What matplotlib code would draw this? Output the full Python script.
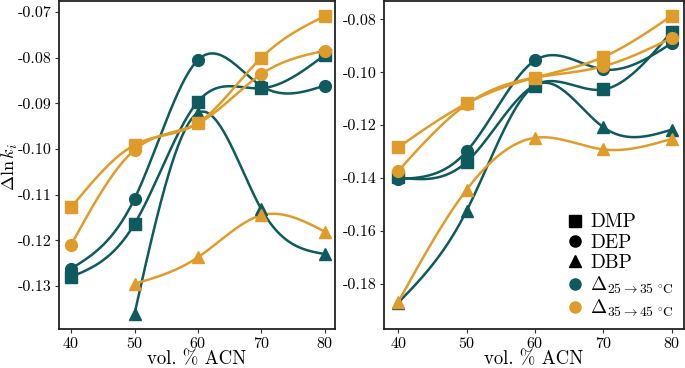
import numpy as np
import matplotlib
matplotlib.use('Agg')
import matplotlib.pyplot as plt
from matplotlib.lines import Line2D

plt.rcParams['font.family'] = 'serif'
plt.rcParams['font.serif'] = ['cmr10', 'DejaVu Serif']
plt.rcParams['mathtext.fontset'] = 'cm'
plt.rcParams['axes.unicode_minus'] = False
plt.rcParams['axes.formatter.use_mathtext'] = True

teal = '#0e5a5e'
orange = '#e09c2a'

acn = [40, 50, 60, 70, 80]
acn_dbp_left = [50, 60, 70, 80]

# left panel
l_dmp_a = [-0.1280, -0.1164, -0.0896, -0.0867, -0.0794]
l_dep_a = [-0.1262, -0.1109, -0.0805, -0.0862, -0.0861]
l_dbp_a = [-0.1361, -0.0921, -0.1132, -0.1230]
l_dmp_b = [-0.1128, -0.0991, -0.0943, -0.0800, -0.0709]
l_dep_b = [-0.1210, -0.1002, -0.0944, -0.0836, -0.0785]
l_dbp_b = [-0.1295, -0.1237, -0.1145, -0.1181]

# right panel
r_dmp_a = [-0.1398, -0.1339, -0.1048, -0.1065, -0.0846]
r_dep_a = [-0.1404, -0.1299, -0.0955, -0.0989, -0.0890]
r_dbp_a = [-0.1872, -0.1524, -0.1050, -0.1208, -0.1217]
r_dmp_b = [-0.1284, -0.1118, -0.1020, -0.0942, -0.0786]
r_dep_b = [-0.1373, -0.1121, -0.1020, -0.0977, -0.0870]
r_dbp_b = [-0.1869, -0.1444, -0.1248, -0.1292, -0.1252]


def spline(x, y, n=200):
    # natural cubic spline just for the smooth line
    x = np.asarray(x, float)
    y = np.asarray(y, float)
    k = len(x)
    h = np.diff(x)
    A = np.zeros((k, k))
    b = np.zeros(k)
    A[0, 0] = 1
    A[-1, -1] = 1
    for i in range(1, k - 1):
        A[i, i - 1] = h[i - 1]
        A[i, i] = 2 * (h[i - 1] + h[i])
        A[i, i + 1] = h[i]
        b[i] = 3 * ((y[i + 1] - y[i]) / h[i] - (y[i] - y[i - 1]) / h[i - 1])
    c = np.linalg.solve(A, b)
    xs = np.linspace(x[0], x[-1], n)
    ys = np.zeros(n)
    for j, xv in enumerate(xs):
        i = min(np.searchsorted(x, xv, side='right') - 1, k - 2)
        dx = xv - x[i]
        bi = (y[i + 1] - y[i]) / h[i] - h[i] * (2 * c[i] + c[i + 1]) / 3
        di = (c[i + 1] - c[i]) / (3 * h[i])
        ys[j] = y[i] + bi * dx + c[i] * dx ** 2 + di * dx ** 3
    return xs, ys


def draw(ax, x, y, color, marker):
    xs, ys = spline(x, y)
    ax.plot(xs, ys, color=color, lw=1.8, zorder=2)
    ax.plot(x, y, ls='none', marker=marker, color=color, ms=8.5, zorder=3)


fig = plt.figure(figsize=(6.85, 3.68), dpi=100)
ax1 = fig.add_axes([59 / 685, 39 / 368, 276 / 685, 328 / 368])
ax2 = fig.add_axes([384 / 685, 39 / 368, 300 / 685, 328 / 368])

draw(ax1, acn, l_dmp_a, teal, 's')
draw(ax1, acn, l_dep_a, teal, 'o')
draw(ax1, acn_dbp_left, l_dbp_a, teal, '^')
draw(ax1, acn, l_dmp_b, orange, 's')
draw(ax1, acn, l_dep_b, orange, 'o')
draw(ax1, acn_dbp_left, l_dbp_b, orange, '^')

draw(ax2, acn, r_dmp_a, teal, 's')
draw(ax2, acn, r_dep_a, teal, 'o')
draw(ax2, acn, r_dbp_a, teal, '^')
draw(ax2, acn, r_dmp_b, orange, 's')
draw(ax2, acn, r_dep_b, orange, 'o')
draw(ax2, acn, r_dbp_b, orange, '^')

ax1.set_xlim(38.1, 81.6)
ax1.set_ylim(-0.1394, -0.0676)
ax1.set_yticks(np.arange(-0.13, -0.069, 0.01))
ax2.set_xlim(37.9, 81.8)
ax2.set_ylim(-0.1972, -0.0730)
ax2.set_yticks(np.arange(-0.18, -0.079, 0.02))

for ax in (ax1, ax2):
    ax.set_xticks(acn)
    ax.yaxis.set_major_formatter(matplotlib.ticker.FormatStrFormatter('%.2f'))
    ax.tick_params(labelsize=11.5, length=3, width=0.8, color='#333333', pad=2)
    ax.set_xlabel('vol. % ACN', fontsize=13.5, labelpad=-0.5)
    for s in ax.spines.values():
        s.set_linewidth(1.3)
        s.set_color('#222222')

fig.text(0, 201 / 368, r'$\Delta \ln k_i$', fontsize=13, rotation=90,
         ha='left', va='center')

handles = [
    Line2D([], [], ls='none', marker='s', color='black', ms=8),
    Line2D([], [], ls='none', marker='o', color='black', ms=8),
    Line2D([], [], ls='none', marker='^', color='black', ms=8),
    Line2D([], [], ls='none', marker='o', color=teal, ms=8),
    Line2D([], [], ls='none', marker='o', color=orange, ms=8),
]
labels = ['DMP', 'DEP', 'DBP',
          r'$\Delta_{25\rightarrow 35\ ^{\circ}\mathrm{C}}$',
          r'$\Delta_{35\rightarrow 45\ ^{\circ}\mathrm{C}}$']
ax2.legend(handles, labels, loc='lower right', frameon=False, fontsize=14,
           handletextpad=0.2, labelspacing=0.12, borderaxespad=0.1,
           handlelength=1.2, bbox_to_anchor=(1.0, 0.0))

fig.savefig('out.png', dpi=100)
